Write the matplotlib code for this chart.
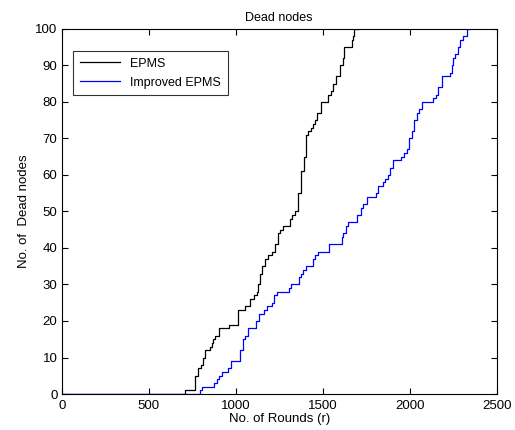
import matplotlib
matplotlib.use('Agg')
import matplotlib.pyplot as plt

plt.rcParams['font.family'] = ['Liberation Sans', 'DejaVu Sans']

# EPMS: round at which the dead-node count steps up, and the new count
epms_rounds = [0, 709, 757, 766, 785, 800, 810, 822, 843, 852, 865, 872, 881, 895, 906,
               963, 1015, 1054, 1082, 1105, 1120, 1130, 1140, 1150, 1169, 1188, 1207,
               1226, 1241, 1255, 1270, 1313, 1322, 1341, 1360, 1374, 1393, 1404, 1418,
               1433, 1446, 1456, 1470, 1488, 1533, 1547, 1561, 1577, 1600, 1615, 1623,
               1667, 1672, 1682, 1700]
epms_dead = [0, 1, 1, 5, 7, 8, 10, 12, 12, 13, 14, 15, 16, 16, 18,
             19, 23, 24, 26, 27, 28, 30, 33, 35, 37, 38, 39,
             41, 44, 45, 46, 48, 49, 50, 55, 61, 65, 71, 72,
             73, 74, 75, 77, 80, 82, 83, 85, 87, 90, 92, 95,
             97, 98, 100, 100]

# Improved EPMS
imp_rounds = [0, 795, 808, 876, 894, 906, 920, 954, 973, 1025, 1040, 1054, 1073,
              1117, 1136, 1163, 1178, 1207, 1220, 1236, 1308, 1318, 1364, 1375, 1385,
              1404, 1446, 1456, 1471, 1536, 1610, 1619, 1634, 1648, 1695, 1721, 1734,
              1753, 1806, 1820, 1845, 1858, 1877, 1887, 1906, 1951, 1969, 1983, 1998,
              2011, 2027, 2044, 2055, 2069, 2133, 2151, 2161, 2188, 2232, 2242, 2247,
              2261, 2276, 2289, 2304, 2328, 2345]
imp_dead = [0, 1, 2, 3, 4, 5, 6, 7, 9, 12, 15, 16, 18,
            20, 22, 23, 24, 25, 27, 28, 29, 30, 32, 33, 34,
            35, 37, 38, 39, 41, 43, 44, 46, 47, 49, 51, 52,
            54, 55, 57, 58, 59, 60, 62, 64, 65, 66, 67, 70,
            72, 75, 77, 78, 80, 81, 82, 84, 87, 88, 90, 92,
            93, 95, 97, 98, 100, 100]

fig = plt.figure(figsize=(5.15, 4.3), dpi=100)
ax = fig.add_axes([0.1198, 0.0837, 0.8447, 0.849])

ax.step(epms_rounds, epms_dead, where='post', color='k', lw=0.9, label='EPMS')
ax.step(imp_rounds, imp_dead, where='post', color='b', lw=0.9, label='Improved EPMS')

ax.set_xlim(0, 2500)
ax.set_ylim(0, 100)
ax.set_xticks(range(0, 2501, 500))
ax.set_yticks(range(0, 101, 10))
ax.tick_params(direction='in', top=True, right=True, length=4, labelsize=9.5)
ax.tick_params(axis='x', pad=4)
ax.tick_params(axis='y', pad=3)
for s in ax.spines.values():
    s.set_linewidth(0.8)

ax.set_title('Dead nodes', fontsize=9, pad=6)
ax.set_xlabel('No. of Rounds (r)', fontsize=9.5, labelpad=1)
ax.set_ylabel('No. of  Dead nodes', fontsize=9.5, labelpad=4)

leg = ax.legend(loc='upper left', bbox_to_anchor=(0.026, 0.94), fontsize=9,
                fancybox=False, edgecolor='k', handlelength=3.2, borderaxespad=0,
                borderpad=0.55, labelspacing=0.55)
leg.get_frame().set_linewidth(0.8)

fig.savefig('out.png', dpi=100)
